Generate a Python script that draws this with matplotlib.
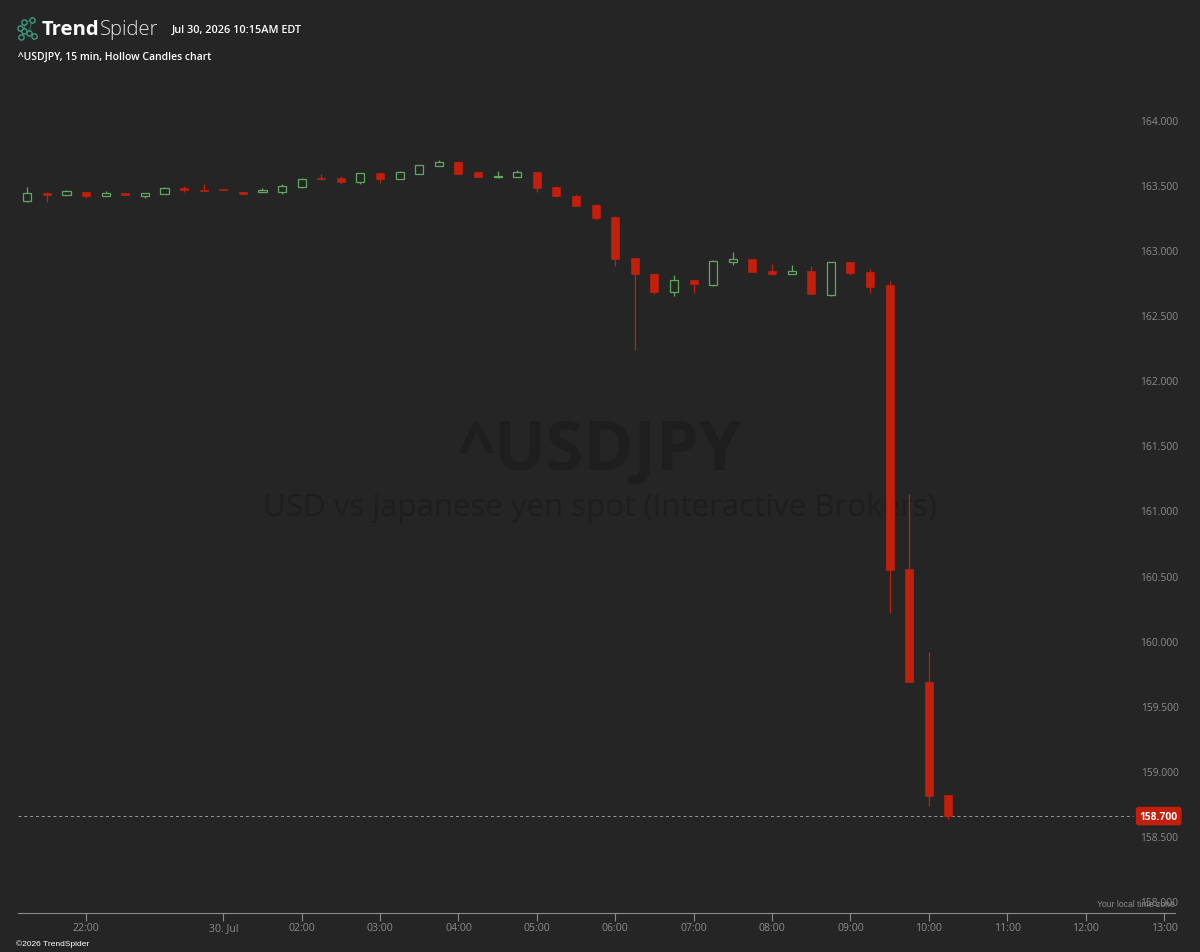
import matplotlib
matplotlib.use("Agg")
import matplotlib.pyplot as plt
import numpy as np

# ---------------- data ----------------
opens = [163.421, 163.482, 163.467, 163.492, 163.461, 163.482, 163.461, 163.477, 163.523, 163.501,
         163.509, 163.487, 163.487, 163.492, 163.528, 163.597, 163.595, 163.569, 163.635, 163.589,
         163.630, 163.692, 163.722, 163.641, 163.601, 163.605, 163.641, 163.528, 163.461, 163.390,
         163.298, 162.981, 162.863, 162.724, 162.812, 162.776, 162.950, 162.975, 162.883, 162.863,
         162.883, 162.699, 162.950, 162.873, 162.776, 160.596, 159.731, 158.862]
highs = [163.528, 163.490, 163.507, 163.493, 163.497, 163.483, 163.483, 163.528, 163.533, 163.549,
         163.510, 163.488, 163.518, 163.549, 163.599, 163.625, 163.610, 163.639, 163.639, 163.651,
         163.700, 163.733, 163.727, 163.643, 163.651, 163.661, 163.643, 163.532, 163.477, 163.394,
         163.302, 162.983, 162.864, 162.853, 162.814, 162.970, 163.031, 162.978, 162.939, 162.929,
         162.919, 162.952, 162.952, 162.899, 162.807, 161.174, 159.957, 158.862]
lows = [163.415, 163.411, 163.465, 163.446, 163.457, 163.463, 163.446, 163.476, 163.492, 163.496,
        163.504, 163.476, 163.486, 163.477, 163.523, 163.584, 163.553, 163.553, 163.559, 163.586,
        163.628, 163.689, 163.624, 163.601, 163.599, 163.603, 163.487, 163.454, 163.382, 163.277,
        162.919, 162.279, 162.705, 162.689, 162.714, 162.766, 162.929, 162.876, 162.853, 162.860,
        162.703, 162.689, 162.853, 162.714, 160.259, 159.729, 158.780, 158.678]
closes = [163.482, 163.467, 163.497, 163.461, 163.482, 163.464, 163.482, 163.518, 163.503, 163.497,
          163.505, 163.477, 163.503, 163.533, 163.589, 163.592, 163.569, 163.635, 163.589, 163.641,
          163.697, 163.718, 163.630, 163.605, 163.609, 163.645, 163.518, 163.457, 163.385, 163.292,
          162.975, 162.858, 162.720, 162.812, 162.781, 162.960, 162.975, 162.878, 162.863, 162.883,
          162.705, 162.950, 162.868, 162.761, 160.591, 159.731, 158.857, 158.700]

x_tick_pos = [3, 10, 14, 18, 22, 26, 30, 34, 38, 42, 46, 50, 54, 58]
x_tick_labels = ["22:00", "30. Jul", "02:00", "03:00", "04:00", "05:00", "06:00", "07:00",
                 "08:00", "09:00", "10:00", "11:00", "12:00", "13:00"]
y_tick_values = [158.0, 158.5, 159.0, 159.5, 160.0, 160.5, 161.0, 161.5, 162.0, 162.5,
                 163.0, 163.5, 164.0]

# ---------------- style ----------------
BG = "#252525"
RED = "#c21f0c"
GREEN = "#62a85e"
GRAY = "#8c8c8c"
WM = "#1e1e1e"
FONT = ["Open Sans", "DejaVu Sans"]

W, H = 1200, 953
fig = plt.figure(figsize=(W / 100, H / 100), dpi=100, facecolor=BG)

# overlay (background decorations) in pixel coordinates
ov = fig.add_axes([0, 0, 1, 1], zorder=0)
ov.set_xlim(0, W)
ov.set_ylim(H, 0)
ov.axis("off")
ov.set_facecolor(BG)

# logo icon
nodes = [(20, 29), (24, 23), (32, 21), (24, 32), (29, 34), (34, 37), (21, 38)]
edges = [(0, 1), (1, 3), (3, 4), (4, 5), (3, 6), (1, 2), (4, 2)]
for a, b in edges:
    ov.plot([nodes[a][0], nodes[b][0]], [nodes[a][1], nodes[b][1]], color="#2a6e5c", lw=0.8)
for (nx, ny) in nodes:
    ov.plot(nx, ny, "o", ms=3.8, mfc=BG, mec="#3f9a80", mew=1.0)

t_trend = ov.text(42, 30, "Trend", color="white", fontsize=14.6, fontweight="bold", family=FONT,
                  ha="left", va="center")
fig.canvas.draw()
bb = t_trend.get_window_extent(renderer=fig.canvas.get_renderer())
ov.text(bb.x1 + 0.5, 30, "Spider", color="#e6e6e6", fontsize=14.6, fontweight="light",
        family=FONT, ha="left", va="center")
ov.text(172, 30, "Jul 30, 2026 10:15AM EDT", color="white", fontsize=7.8, fontweight="semibold",
        family=FONT, ha="left", va="center")
ov.text(18, 57, "^USDJPY, 15 min, Hollow Candles chart", color="white", fontsize=7.5,
        fontweight="semibold", family=FONT, ha="left", va="center")
ov.text(16, 944, "\u00a92026 TrendSpider", color="white", fontsize=6.0,
        family=["Liberation Sans", "DejaVu Sans"], ha="left", va="center")

# watermark
ov.text(600, 452, "^USDJPY", color=WM, fontsize=49, fontweight="bold", family=FONT,
        ha="center", va="center")
ov.text(600, 508, "USD vs japanese yen spot (Interactive Brokers)", color=WM, fontsize=22.5,
        family=FONT, ha="center", va="center")

# ---------------- main chart ----------------
left_px, right_px, bottom_px = 17.5, 1175.0, 914.0
ax = fig.add_axes([left_px / W, 1 - bottom_px / H, (right_px - left_px) / W, bottom_px / H],
                  zorder=1)
ax.set_facecolor("none")

px_per_unit = 130.3
y_ref_px = 126.5  # pixel row of 164.000
ax.set_ylim(164 - (bottom_px - y_ref_px) / px_per_unit, 164 + y_ref_px / px_per_unit)
ax.set_xlim(-0.5, 58.56)

o = np.array(opens)
h = np.array(highs)
l = np.array(lows)
c = np.array(closes)
idx = np.arange(len(o))
up = c >= o
body_lo = np.minimum(o, c)
body_hi = np.maximum(o, c)
body_h = np.maximum(body_hi - body_lo, 0.006)
bw = 0.41

# wicks
for i in idx:
    col = GREEN if up[i] else RED
    if up[i]:
        ax.vlines(i, body_hi[i], h[i], color=col, lw=0.9, zorder=2)
        ax.vlines(i, l[i], body_lo[i], color=col, lw=0.9, zorder=2)
    else:
        ax.vlines(i, l[i], h[i], color=col, lw=0.9, zorder=2)

# bodies
ax.bar(idx[~up], body_h[~up], bottom=body_lo[~up], width=bw, color=RED, edgecolor=RED,
       linewidth=0.5, zorder=3)
ax.bar(idx[up], body_h[up], bottom=body_lo[up], width=bw, facecolor=BG, edgecolor=GREEN,
       linewidth=0.9, zorder=3)

# last price line and label
last = closes[-1]
ax.hlines(last, -0.5, 56.4, color="#9a9a9a", lw=0.7, linestyles=(0, (3, 3)), zorder=1)
ax.annotate(f"{last:.3f}", xy=(1.0, last), xycoords=("axes fraction", "data"),
            xytext=(2.0, 0), textcoords="offset points", ha="right", va="center",
            color="white", fontsize=7.4, fontweight="bold", family=FONT, zorder=6,
            bbox=dict(boxstyle="round,pad=0.3,rounding_size=0.2", fc=RED, ec=RED))

# y labels (drawn inside the plot on the right)
for v in y_tick_values:
    ax.annotate(f"{v:.3f}", xy=(1.0, v), xycoords=("axes fraction", "data"),
                xytext=(2.6, 3.2), textcoords="offset points", ha="right", va="center",
                color=GRAY, fontsize=7.4, family=FONT, zorder=5)

ax.text(1.0, 0.005, "Your local time zone", transform=ax.transAxes, ha="right", va="bottom",
        color=GRAY, fontsize=6.2, family=["Liberation Sans", "DejaVu Sans"], zorder=5)

# axes styling
for s in ["top", "right", "left"]:
    ax.spines[s].set_visible(False)
ax.spines["bottom"].set_color(GRAY)
ax.spines["bottom"].set_linewidth(0.8)
ax.set_yticks([])
ax.set_xticks(x_tick_pos)
ax.set_xticklabels(x_tick_labels, family=FONT, fontsize=7.6, color=GRAY)
for lab in ax.get_xticklabels():
    lab.set_verticalalignment("baseline")
ax.tick_params(axis="x", direction="out", length=5.5, width=0.8, color=GRAY, pad=6.6)

fig.savefig("out.png", dpi=100, facecolor=BG)
